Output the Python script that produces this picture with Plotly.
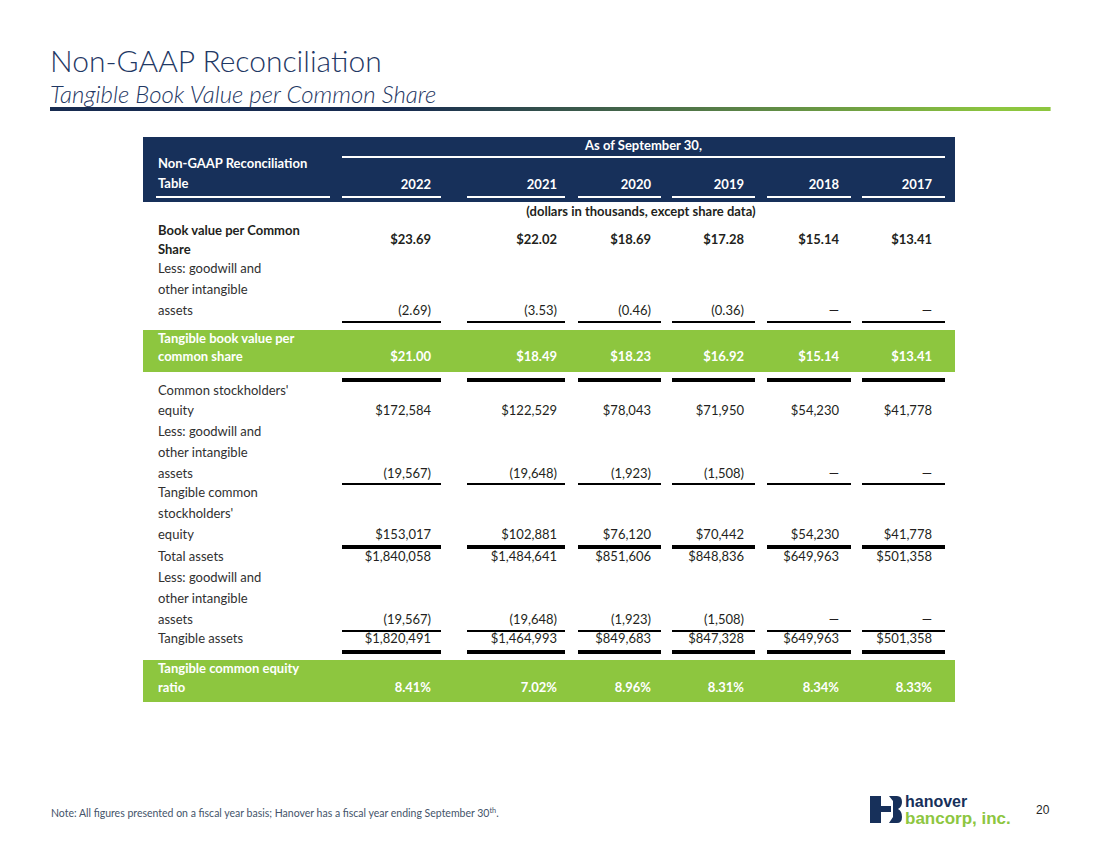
import plotly.graph_objects as go

# ---------------- data ----------------
years = ["2022", "2021", "2020", "2019", "2018", "2017"]
book_value_ps = [23.69, 22.02, 18.69, 17.28, 15.14, 13.41]
goodwill_ps = [2.69, 3.53, 0.46, 0.36, None, None]
tangible_bv_ps = [21.00, 18.49, 18.23, 16.92, 15.14, 13.41]
common_equity = [172584, 122529, 78043, 71950, 54230, 41778]
goodwill = [19567, 19648, 1923, 1508, None, None]
tangible_equity = [153017, 102881, 76120, 70442, 54230, 41778]
total_assets = [1840058, 1484641, 851606, 848836, 649963, 501358]
tangible_assets = [1820491, 1464993, 849683, 847328, 649963, 501358]
tce_ratio = [8.41, 7.02, 8.96, 8.31, 8.34, 8.33]

title = "Non-GAAP Reconciliation"
subtitle = "Tangible Book Value per Common Share"
header_label = ["Non-GAAP Reconciliation", "Table"]
header_span = "As of September 30,"
units_note = "(dollars in thousands, except share data)"
footnote = "Note: All figures presented on a fiscal year basis; Hanover has a fiscal year ending September 30<sup>th</sup>."
page_no = "20"

# ---------------- formatting ----------------
def dollars2(v): return f"${v:,.2f}"
def neg2(v): return "—" if v is None else f"({v:,.2f})"
def dollars0(v): return f"${v:,}"
def neg0(v): return "—" if v is None else f"({v:,})"
def pct(v): return f"{v:.2f}%"

NAVY = "#17305a"
GREEN = "#8dc63f"
TXT = "#231f20"
LBL = "#303030"
FONT = "Lato"

# ---------------- layout constants ----------------
col_right = [431, 557, 651, 744, 839, 932]
col_lines = [(342, 441), (467, 565), (578, 661), (672, 755), (767, 851), (862, 945)]
label_x = 158

rows = [
    dict(label=["Book value per Common", "Share"], ly=[232, 251], vy=241,
         vals=[dollars2(v) for v in book_value_ps], bold=True, color=TXT),
    dict(label=["Less: goodwill and", "other intangible", "assets"], ly=[270, 291, 312], vy=312,
         vals=[neg2(v) for v in goodwill_ps], bold=False, color=TXT),
    dict(label=["Tangible book value per", "common share"], ly=[340, 358], vy=358,
         vals=[dollars2(v) for v in tangible_bv_ps], bold=True, color="white"),
    dict(label=["Common stockholders'", "equity"], ly=[392, 412], vy=412,
         vals=[dollars0(v) for v in common_equity], bold=False, color=TXT),
    dict(label=["Less: goodwill and", "other intangible", "assets"], ly=[433, 454, 475], vy=475,
         vals=[neg0(v) for v in goodwill], bold=False, color=TXT),
    dict(label=["Tangible common", "stockholders'", "equity"], ly=[494, 515, 536], vy=536,
         vals=[dollars0(v) for v in tangible_equity], bold=False, color=TXT),
    dict(label=["Total assets"], ly=[558], vy=558,
         vals=[dollars0(v) for v in total_assets], bold=False, color=TXT),
    dict(label=["Less: goodwill and", "other intangible", "assets"], ly=[579, 600, 621], vy=621,
         vals=[neg0(v) for v in goodwill], bold=False, color=TXT),
    dict(label=["Tangible assets"], ly=[640], vy=640,
         vals=[dollars0(v) for v in tangible_assets], bold=False, color=TXT),
    dict(label=["Tangible common equity", "ratio"], ly=[670, 689], vy=689,
         vals=[pct(v) for v in tce_ratio], bold=True, color="white"),
]
thin_lines_y = [322, 484, 631]
thick_lines_y = [380, 547, 652]
bands = [(330, 372), (660, 702)]

fig = go.Figure()
shapes = []

# gradient rule under title
N = 200
x0g, x1g = 50, 1050
def lerp(a, b, t): return int(round(a + (b - a) * t))
c0 = (23, 43, 80)
c1 = (141, 198, 63)
for i in range(N):
    t = i / (N - 1)
    tt = 0 if t < 0.35 else min(1, (t - 0.35) / 0.6)
    col = f"rgb({lerp(c0[0], c1[0], tt)},{lerp(c0[1], c1[1], tt)},{lerp(c0[2], c1[2], tt)})"
    xa = x0g + (x1g - x0g) * i / N
    xb = x0g + (x1g - x0g) * (i + 1) / N + 0.6
    shapes.append(dict(type="rect", xref="x", yref="y", x0=xa, x1=xb, y0=107, y1=111,
                       fillcolor=col, line=dict(width=0), layer="below"))

# header box
shapes.append(dict(type="rect", xref="x", yref="y", x0=143, x1=955, y0=137, y1=202,
                   fillcolor=NAVY, line=dict(width=0), layer="below"))
shapes.append(dict(type="line", xref="x", yref="y", x0=col_lines[0][0], x1=col_lines[-1][1],
                   y0=157, y1=157, line=dict(color="white", width=2)))
for a, b in [(156, 330)] + col_lines:
    shapes.append(dict(type="line", xref="x", yref="y", x0=a, x1=b, y0=197, y1=197,
                       line=dict(color="white", width=2)))
# green bands
for a, b in bands:
    shapes.append(dict(type="rect", xref="x", yref="y", x0=143, x1=955, y0=a, y1=b,
                       fillcolor=GREEN, line=dict(width=0), layer="below"))
# rules
for yy in thin_lines_y:
    for a, b in col_lines:
        shapes.append(dict(type="line", xref="x", yref="y", x0=a, x1=b, y0=yy, y1=yy,
                           line=dict(color="black", width=1.8)))
for yy in thick_lines_y:
    for a, b in col_lines:
        shapes.append(dict(type="line", xref="x", yref="y", x0=a, x1=b, y0=yy, y1=yy,
                           line=dict(color="black", width=4)))

# logo mark (stylized H)
shapes.append(dict(type="rect", xref="x", yref="y", x0=870, x1=881, y0=796, y1=823,
                   fillcolor=NAVY, line=dict(width=0)))
shapes.append(dict(type="rect", xref="x", yref="y", x0=881, x1=891, y0=806, y1=812,
                   fillcolor=NAVY, line=dict(width=0)))
shapes.append(dict(type="path", xref="x", yref="y",
                   path="M 889 796 L 897 796 Q 902 796 902 802 Q 902 807 898 809 Q 902 811 902 817 Q 902 823 897 823 L 889 823 L 893 817 L 893 801 Z",
                   fillcolor=NAVY, line=dict(width=0)))

# ---------------- text traces ----------------
def add_text(xs, ys, texts, bold, color, pos, size=13):
    fig.add_trace(go.Scatter(
        x=xs, y=ys, text=texts, mode="text", textposition=pos, hoverinfo="skip",
        textfont=dict(family=FONT, size=size, color=color,
                      weight="bold" if bold else "normal"),
        showlegend=False))

# header texts
add_text([label_x] * 2, [165, 185], header_label, True, "white", "middle right", 13)
add_text(col_right, [186] * 6, years, True, "white", "middle left", 13)
add_text([(col_lines[0][0] + col_lines[-1][1]) / 2], [147], [header_span], True, "white", "middle center", 13)
add_text([641], [213], [units_note], True, TXT, "middle center", 13)

for r in rows:
    add_text([label_x] * len(r["label"]), r["ly"], r["label"], r["bold"],
             r["color"] if r["bold"] else LBL, "middle right", 13)
    add_text(col_right, [r["vy"]] * 6, r["vals"], r["bold"], r["color"], "middle left", 13)

annotations = [
    dict(x=48, y=60, xref="x", yref="y", text=title, showarrow=False, xanchor="left", yanchor="middle",
         font=dict(family=FONT, size=30, color="#1f3864", weight=300)),
    dict(x=48, y=93, xref="x", yref="y", text=f"<i>{subtitle}</i>", showarrow=False, xanchor="left",
         yanchor="middle", font=dict(family=FONT, size=24, color="#1f3864", weight=300)),
    dict(x=49, y=812, xref="x", yref="y", text=footnote, showarrow=False, xanchor="left", yanchor="middle",
         font=dict(family=FONT, size=10.5, color="#44546a")),
    dict(x=903, y=801, xref="x", yref="y", text="<b>hanover</b>", showarrow=False, xanchor="left",
         yanchor="middle", font=dict(family="Liberation Sans", size=16, color=NAVY)),
    dict(x=903, y=818, xref="x", yref="y", text="<b>bancorp, inc.</b>", showarrow=False, xanchor="left",
         yanchor="middle", font=dict(family="Liberation Sans", size=17, color=GREEN)),
    dict(x=1034, y=810, xref="x", yref="y", text=page_no, showarrow=False, xanchor="left",
         yanchor="middle", font=dict(family="Liberation Sans", size=12, color="#262626")),
]

fig.update_layout(
    width=1100, height=849, margin=dict(l=0, r=0, t=0, b=0),
    paper_bgcolor="white", plot_bgcolor="white",
    xaxis=dict(range=[0, 1100], visible=False, fixedrange=True),
    yaxis=dict(range=[849, 0], visible=False, fixedrange=True),
    shapes=shapes, annotations=annotations, showlegend=False,
)
fig.write_html("out.html", config={"displayModeBar": False},
               post_script="document.body.style.margin='0';document.body.style.overflow='hidden';")
